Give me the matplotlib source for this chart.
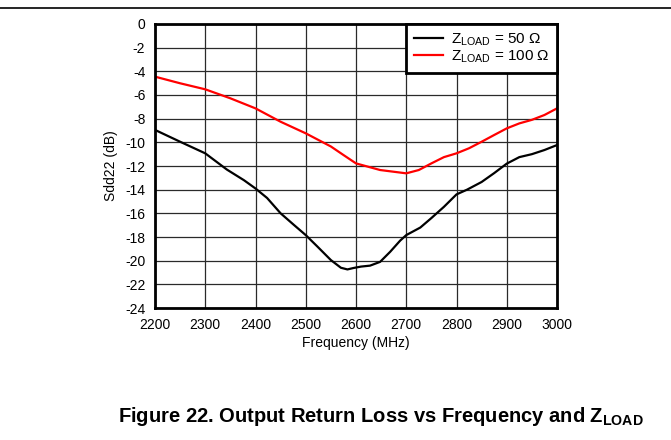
import matplotlib
matplotlib.use("Agg")
import matplotlib.pyplot as plt
from matplotlib.lines import Line2D

plt.rcParams["font.family"] = ["Liberation Sans", "DejaVu Sans"]
plt.rcParams["mathtext.fontset"] = "custom"
plt.rcParams["mathtext.rm"] = "Liberation Sans"
plt.rcParams["mathtext.bf"] = "Liberation Sans:bold"
plt.rcParams["mathtext.it"] = "Liberation Sans:italic"
plt.rcParams["axes.unicode_minus"] = False

# Sdd22 vs frequency for the two load impedances
freq_50 = [2200, 2250, 2300, 2343, 2377, 2400, 2423, 2450, 2477, 2500, 2523,
           2550, 2570, 2583, 2595, 2610, 2628, 2648, 2668, 2688, 2700, 2728,
           2750, 2775, 2800, 2821, 2850, 2875, 2900, 2925, 2950, 2975, 3000]
sdd22_50 = [-8.95, -9.95, -10.93, -12.3, -13.2, -13.9, -14.7, -16.0, -17.0, -17.84, -18.8,
            -19.95, -20.6, -20.74, -20.62, -20.5, -20.42, -20.1, -19.25, -18.3, -17.84, -17.2,
            -16.4, -15.45, -14.4, -14.0, -13.35, -12.6, -11.8, -11.25, -11.0, -10.65, -10.23]

freq_100 = [2200, 2250, 2300, 2350, 2400, 2450, 2500, 2550, 2575, 2600,
            2648, 2700, 2725, 2750, 2775, 2800, 2825, 2850, 2875, 2900,
            2925, 2950, 2975, 3000]
sdd22_100 = [-4.45, -5.01, -5.52, -6.28, -7.13, -8.26, -9.24, -10.35, -11.07, -11.78,
             -12.34, -12.62, -12.34, -11.78, -11.25, -10.93, -10.5, -9.95, -9.38, -8.82,
             -8.4, -8.1, -7.69, -7.13]

x_ticks = list(range(2200, 3001, 100))
y_ticks = list(range(-24, 1, 2))

fig = plt.figure(figsize=(6.71, 4.40), dpi=100)
ax = fig.add_axes([155 / 671, 1 - 308 / 440, 402 / 671, 284 / 440])

ax.plot(freq_50, sdd22_50, color="black", lw=1.6, label=r"Z$_{\rm LOAD}$ = 50 Ω")
ax.plot(freq_100, sdd22_100, color="#ff0000", lw=1.6, label=r"Z$_{\rm LOAD}$ = 100 Ω")

ax.set_xlim(2200, 3000)
ax.set_ylim(-24, 0)
ax.set_xticks(x_ticks)
ax.set_yticks(y_ticks)
ax.tick_params(length=0, labelsize=10, pad=7)
ax.grid(True, color="#2a2a2a", lw=0.9)
for s in ax.spines.values():
    s.set_linewidth(2)
    s.set_color("black")

ax.set_xlabel("Frequency (MHz)", fontsize=10, labelpad=3)
ax.set_ylabel("Sdd22 (dB)", fontsize=10, labelpad=5)

leg = ax.legend(loc="upper right", borderaxespad=0, fancybox=False, fontsize=11,
                handlelength=1.9, handletextpad=0.5, borderpad=0.5, labelspacing=0.05)
leg.get_frame().set_edgecolor("black")
leg.get_frame().set_linewidth(2)
leg.get_frame().set_alpha(1)

fig.add_artist(Line2D([0, 1], [1 - 8 / 440] * 2, color="black", lw=1.2))
fig.text(0.568, 1 - 416 / 440, r"Figure 22. Output Return Loss vs Frequency and Z$_\mathbf{LOAD}$",
         ha="center", va="center", fontsize=14.5, fontweight="bold")

fig.savefig("out.png", dpi=100)
